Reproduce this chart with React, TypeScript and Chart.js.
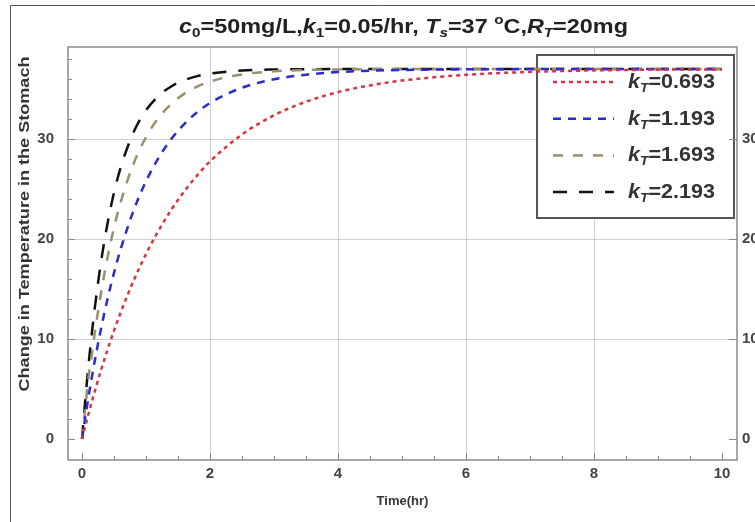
import React, { useEffect, useRef } from "react";
import { Chart, registerables } from "chart.js";

Chart.register(...registerables);

// ---- data ----
const TIME = [0, 0.05, 0.1, 0.15, 0.2, 0.3, 0.4, 0.5, 0.6, 0.8, 1, 1.2, 1.4, 1.6, 1.8, 2, 2.5, 3, 3.5, 4, 4.5, 5, 6, 7, 8, 9, 10];
const K_0693 = [0, 1.26, 2.48, 3.65, 4.79, 6.95, 8.96, 10.84, 12.59, 15.75, 18.5, 20.89, 22.98, 24.79, 26.37, 27.75, 30.46, 32.37, 33.73, 34.69, 35.36, 35.84, 36.42, 36.71, 36.86, 36.93, 36.96];
const K_1193 = [0, 2.14, 4.16, 6.06, 7.85, 11.13, 14.04, 16.62, 18.91, 22.75, 25.78, 28.16, 30.04, 31.51, 32.68, 33.6, 35.13, 35.97, 36.43, 36.69, 36.83, 36.9, 36.97, 36.99, 37, 37, 37];
const K_1693 = [0, 3.0, 6.13, 8.3, 10.63, 14.73, 18.2, 21.13, 23.6, 27.45, 30.19, 32.15, 33.54, 34.54, 35.24, 35.75, 36.46, 36.77, 36.9, 36.96, 36.98, 36.99, 37, 37, 37, 37, 37];
const K_2193 = [0, 3.84, 7.29, 10.37, 13.14, 17.84, 21.61, 24.64, 27.07, 30.6, 32.87, 34.34, 35.28, 35.89, 36.29, 36.54, 36.85, 36.95, 36.98, 36.99, 37, 37, 37, 37, 37, 37, 37];
const SERIES_K = ["0.693", "1.193", "1.693", "2.193"];

const X_TICKS = [0, 2, 4, 6, 8, 10];
const X_MINOR = [0.5, 1, 1.5, 2.5, 3, 3.5, 4.5, 5, 5.5, 6.5, 7, 7.5, 8.5, 9, 9.5];
const Y_TICKS = [0, 10, 20, 30];
const Y_MINOR = [2, 4, 6, 8, 12, 14, 16, 18, 22, 24, 26, 28, 32, 34, 36, 38];

const X_TITLE = "Time(hr)";
const Y_TITLE = "Change in Temperature in the Stomach";

const FAMILY = "'Liberation Sans', Arial, Helvetica, sans-serif";
const B20 = `bold 20px ${FAMILY}`;
const BI20 = `italic bold 20px ${FAMILY}`;
const S13 = `bold 13px ${FAMILY}`;
const SI13 = `italic bold 13px ${FAMILY}`;

type Part = { t: string; f: string; dy?: number };

const TITLE_PARTS: Part[] = [
  { t: "c", f: BI20 },
  { t: "0", f: S13, dy: 4 },
  { t: "=50mg/L,", f: B20 },
  { t: "k", f: BI20 },
  { t: "1", f: S13, dy: 4 },
  { t: "=0.05/hr, ", f: B20 },
  { t: "T", f: BI20 },
  { t: "s", f: SI13, dy: 4 },
  { t: "=37 ", f: B20 },
  { t: "o", f: S13, dy: -9 },
  { t: "C,", f: B20 },
  { t: "R", f: BI20 },
  { t: "T", f: SI13, dy: 4 },
  { t: "=20mg", f: B20 },
];

function richWidth(ctx: CanvasRenderingContext2D, parts: Part[]) {
  let w = 0;
  for (const p of parts) {
    ctx.font = p.f;
    w += ctx.measureText(p.t).width;
  }
  return w;
}

// draws rich text starting at x (baseline y), stretched horizontally to targetWidth
function drawRich(ctx: CanvasRenderingContext2D, x: number, y: number, parts: Part[], targetWidth?: number) {
  const w = richWidth(ctx, parts);
  const sx = targetWidth ? targetWidth / w : 1;
  ctx.save();
  ctx.translate(x, y);
  ctx.scale(sx, 1);
  let cx = 0;
  for (const p of parts) {
    ctx.font = p.f;
    ctx.fillText(p.t, cx, p.dy || 0);
    cx += ctx.measureText(p.t).width;
  }
  ctx.restore();
}

const decorPlugin = {
  id: "decor",
  beforeDatasetsDraw(chart: any) {
    const ctx: CanvasRenderingContext2D = chart.ctx;
    ctx.save();
    // legend box (curves are drawn over it)
    const bx = 537, by = 55, bw = 197, bh = 163;
    ctx.fillStyle = "#ffffff";
    ctx.fillRect(bx, by, bw, bh);
    ctx.strokeStyle = "#555555";
    ctx.lineWidth = 2;
    ctx.strokeRect(bx, by, bw, bh);
    chart.data.datasets.forEach((ds: any, i: number) => {
      const y = 82 + i * 36.7;
      ctx.setLineDash(ds.borderDash || []);
      ctx.strokeStyle = ds.borderColor;
      ctx.lineWidth = ds.borderWidth;
      ctx.beginPath();
      ctx.moveTo(553, y);
      ctx.lineTo(614, y);
      ctx.stroke();
      ctx.setLineDash([]);
      ctx.fillStyle = "#333333";
      ctx.textAlign = "left";
      ctx.textBaseline = "alphabetic";
      drawRich(
        ctx,
        628,
        y + 6,
        [
          { t: "k", f: BI20 },
          { t: "T", f: SI13, dy: 4 },
          { t: "=" + SERIES_K[i], f: B20 },
        ],
        87
      );
    });
    ctx.restore();
  },
  afterDatasetsDraw(chart: any) {
    const ctx: CanvasRenderingContext2D = chart.ctx;
    const { left, right, top, bottom } = chart.chartArea;
    const xs = chart.scales.x;
    const ys = chart.scales.y;
    ctx.save();
    ctx.strokeStyle = "#8a8a8a";
    ctx.lineWidth = 1;
    const line = (x1: number, y1: number, x2: number, y2: number) => {
      ctx.beginPath();
      ctx.moveTo(x1, y1);
      ctx.lineTo(x2, y2);
      ctx.stroke();
    };
    X_TICKS.forEach((v) => {
      const px = Math.round(xs.getPixelForValue(v)) + 0.5;
      line(px, bottom, px, bottom - 7);
    });
    X_MINOR.forEach((v) => {
      const px = Math.round(xs.getPixelForValue(v)) + 0.5;
      line(px, bottom, px, bottom - 4);
    });
    Y_TICKS.forEach((v) => {
      const py = Math.round(ys.getPixelForValue(v)) + 0.5;
      line(left, py, left + 7, py);
      line(right, py, right - 8, py);
    });
    Y_MINOR.forEach((v) => {
      const py = Math.round(ys.getPixelForValue(v)) + 0.5;
      line(left, py, left + 4, py);
    });
    ctx.lineWidth = 1.5;
    ctx.strokeRect(left, top, right - left, bottom - top);
    ctx.restore();
  },
  afterDraw(chart: any) {
    const ctx: CanvasRenderingContext2D = chart.ctx;
    ctx.save();
    // title
    ctx.fillStyle = "#222222";
    ctx.textAlign = "left";
    ctx.textBaseline = "alphabetic";
    drawRich(ctx, 179, 33, TITLE_PARTS, 449);
    // y title
    ctx.font = `bold 14px ${FAMILY}`;
    const w = ctx.measureText(Y_TITLE).width;
    ctx.translate(25, 224);
    ctx.rotate(-Math.PI / 2);
    ctx.scale(335 / w, 1);
    ctx.textAlign = "center";
    ctx.textBaseline = "middle";
    ctx.fillStyle = "#333333";
    ctx.fillText(Y_TITLE, 0, 0);
    ctx.restore();
    // outer picture border
    ctx.save();
    ctx.strokeStyle = "#555555";
    ctx.lineWidth = 1;
    ctx.beginPath();
    ctx.moveTo(10.5, 522);
    ctx.lineTo(10.5, 5.5);
    ctx.lineTo(755, 5.5);
    ctx.stroke();
    ctx.restore();
  },
};

const tickFont = { family: FAMILY, size: 15, weight: "bold" as const };
const GRID = "#cfcfcf";
const NONE = "rgba(0,0,0,0)";

export default function App() {
  const ref = useRef<HTMLCanvasElement | null>(null);

  useEffect(() => {
    if (!ref.current) return;
    const mk = (vals: number[]) => TIME.map((t, i) => ({ x: t, y: vals[i] }));
    const common = {
      pointRadius: 0,
      fill: false,
      cubicInterpolationMode: "monotone" as const,
      borderCapStyle: "butt" as const,
      yAxisID: "y",
    };
    const chart = new Chart(ref.current, {
      type: "line",
      data: {
        datasets: [
          { ...common, label: "kT=" + SERIES_K[0], data: mk(K_0693), borderColor: "#d9343f", borderWidth: 2.5, borderDash: [4, 4] },
          { ...common, label: "kT=" + SERIES_K[1], data: mk(K_1193), borderColor: "#2b2bd0", borderWidth: 2.5, borderDash: [8, 7] },
          { ...common, label: "kT=" + SERIES_K[2], data: mk(K_1693), borderColor: "#9a9070", borderWidth: 2.5, borderDash: [10, 10] },
          { ...common, label: "kT=" + SERIES_K[3], data: mk(K_2193), borderColor: "#111111", borderWidth: 2.5, borderDash: [14, 12] },
        ],
      },
      options: {
        responsive: false,
        animation: false,
        layout: { padding: { top: 47, left: 0, right: 0, bottom: 0 } },
        plugins: { legend: { display: false }, title: { display: false }, tooltip: { enabled: false } },
        scales: {
          x: {
            type: "linear",
            min: -0.219,
            max: 10.234,
            afterBuildTicks: (s: any) => { s.ticks = X_TICKS.map((v) => ({ value: v })); },
            afterFit: (s: any) => { s.height = 62; },
            grid: {
              drawTicks: false,
              lineWidth: 1,
              color: (c: any) => (c.tick && c.tick.value > 0 && c.tick.value < 10 ? GRID : NONE),
            },
            border: { display: false },
            ticks: { font: tickFont, color: "#444444", padding: 5, maxRotation: 0, autoSkip: false },
            title: { display: true, text: X_TITLE, font: { family: FAMILY, size: 13, weight: "bold" }, color: "#333333", padding: { top: 0, bottom: 13 } },
          },
          y: {
            type: "linear",
            position: "left",
            min: -2.1,
            max: 39.2,
            afterBuildTicks: (s: any) => { s.ticks = Y_TICKS.map((v) => ({ value: v })); },
            afterFit: (s: any) => { s.width = 68; },
            grid: {
              drawTicks: false,
              lineWidth: 1,
              color: (c: any) => (c.tick && c.tick.value > 0 ? GRID : NONE),
            },
            border: { display: false },
            ticks: { font: tickFont, color: "#444444", padding: 14 },
          },
          y2: {
            type: "linear",
            position: "right",
            min: -2.1,
            max: 39.2,
            afterBuildTicks: (s: any) => { s.ticks = Y_TICKS.map((v) => ({ value: v })); },
            afterFit: (s: any) => { s.width = 18; },
            grid: { display: false, drawTicks: false },
            border: { display: false },
            ticks: { font: tickFont, color: "#444444", padding: 5 },
          },
        },
      },
      plugins: [decorPlugin],
    });
    return () => chart.destroy();
  }, []);

  return (
    <div style={{ position: "fixed", left: 0, top: 0, width: 755, height: 522, background: "#ffffff" }}>
      <canvas ref={ref} width={755} height={522} style={{ display: "block", width: 755, height: 522 }} />
    </div>
  );
}
